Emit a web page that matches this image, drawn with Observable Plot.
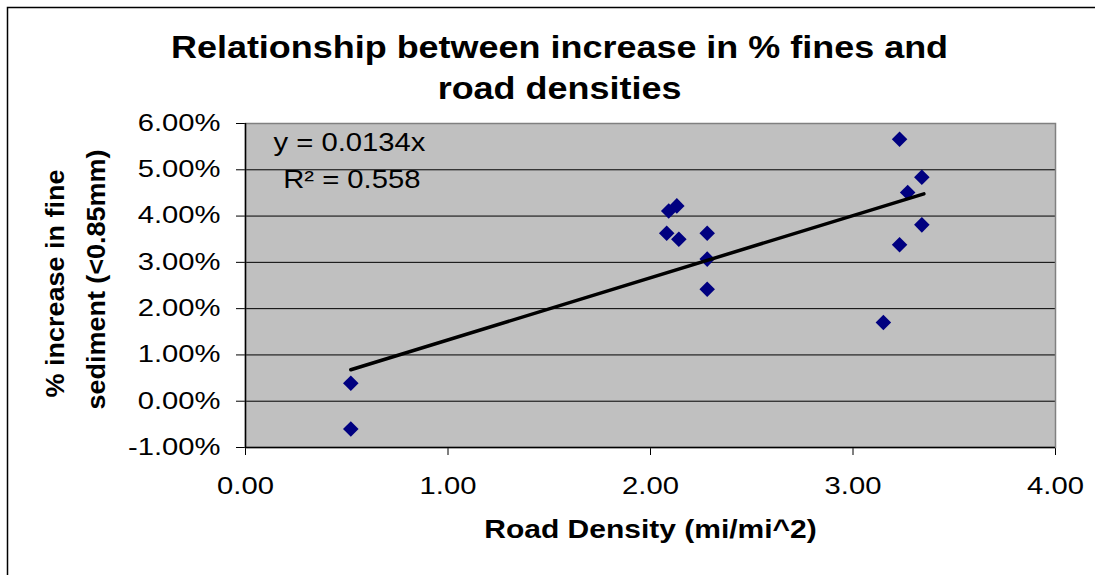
<!DOCTYPE html>
<html>
<head>
<meta charset="utf-8">
<script src="https://cdn.jsdelivr.net/npm/d3@7"></script>
<script src="https://cdn.jsdelivr.net/npm/@observablehq/plot@0.6"></script>
<style>
  html, body { margin: 0; padding: 0; background: white; overflow: hidden; }
</style>
</head>
<body>
<script>
// ---- data ----
const roadDensity = [0.52, 0.52, 2.09, 2.13, 2.08, 2.14, 2.28, 2.28, 2.28, 3.23, 3.34, 3.27, 3.34, 3.23, 3.15];
const pctIncrease = [0.39, -0.60, 4.11, 4.22, 3.63, 3.50, 3.63, 3.07, 2.42, 5.66, 4.84, 4.51, 3.81, 3.38, 1.70];
const trendX = [0.52, 3.35];
const trendY = [0.68, 4.48];
const xTicks = [0, 1, 2, 3, 4];
const yTicks = [-1, 0, 1, 2, 3, 4, 5, 6];
const gridY = [0, 1, 2, 3, 4, 5];
const titleLines = ["Relationship between increase in % fines and", "road densities"];
const yLabelLines = ["% increase in fine", "sediment (<0.85mm)"];
const xLabel = "Road Density (mi/mi^2)";
const equationLines = ["y = 0.0134x", "R\u00B2 = 0.558"];

const points = roadDensity.map((x, i) => ({x, y: pctIncrease[i]}));
const trend = trendX.map((x, i) => ({x, y: trendY[i]}));

const diamond = {
  draw(ctx, size) {
    const r = Math.sqrt(size / 2);
    ctx.moveTo(0, -r); ctx.lineTo(r, 0); ctx.lineTo(0, r); ctx.lineTo(-r, 0); ctx.closePath();
  }
};

const font = "'Liberation Sans', Arial, Helvetica, sans-serif";
const common = {fill: "black", lineAnchor: "middle"};

const svg = Plot.plot({
  width: 1095,
  height: 575,
  marginLeft: 245,
  marginRight: 40,
  marginTop: 123,
  marginBottom: 128,
  style: {fontFamily: font, fontSize: "23px", background: "white", color: "black", overflow: "visible"},
  x: {domain: [0, 4], ticks: xTicks, tickFormat: d => d.toFixed(2), tickSize: 8, tickPadding: 22, label: null},
  y: {domain: [-1, 6], ticks: yTicks, tickFormat: d => d.toFixed(2) + "%", tickSize: 9, tickPadding: 16, label: null},
  marks: [
    Plot.frame({fill: "#c0c0c0", stroke: "none"}),
    Plot.ruleY(gridY, {stroke: "black", strokeWidth: 1}),
    Plot.frame({stroke: "#808080", strokeWidth: 1.5}),
    Plot.ruleX([0], {stroke: "black", strokeWidth: 1.5}),
    Plot.ruleY([-1], {stroke: "black", strokeWidth: 1.5}),
    Plot.dot(points, {x: "x", y: "y", symbol: diamond, r: 6.2, fill: "#000080", stroke: "none"}),
    Plot.line(trend, {x: "x", y: "y", stroke: "black", strokeWidth: 3.5}),
    Plot.text([equationLines[0]], {...common, frameAnchor: "top-left", textAnchor: "start", dx: 28, dy: 19.5, fontSize: 25}),
    Plot.text([equationLines[1]], {...common, frameAnchor: "top-left", textAnchor: "start", dx: 37.7, dy: 56, fontSize: 25}),
    Plot.text([titleLines[0]], {...common, frameAnchor: "top", textAnchor: "middle", dx: -91, dy: -75, fontSize: 31, fontWeight: "bold"}),
    Plot.text([titleLines[1]], {...common, frameAnchor: "top", textAnchor: "middle", dx: -91, dy: -34, fontSize: 31, fontWeight: "bold"}),
    Plot.text([yLabelLines[0]], {...common, frameAnchor: "left", textAnchor: "middle", rotate: -90, dx: -190, dy: -2, fontSize: 25, fontWeight: "bold"}),
    Plot.text([yLabelLines[1]], {...common, frameAnchor: "left", textAnchor: "middle", rotate: -90, dx: -149, dy: -6, fontSize: 25, fontWeight: "bold"}),
    Plot.text([xLabel], {...common, frameAnchor: "bottom", textAnchor: "middle", dy: 82, fontSize: 25, fontWeight: "bold"})
  ]
});

document.body.append(svg);

// the reference renders its text horizontally widened; mimic that with a local x-scale
const stretch = new Map([
  ...titleLines.map(s => [s, 1.16]),
  ...yLabelLines.map(s => [s, 1.08]),
  ...equationLines.map(s => [s, 1.17]),
  [xLabel, 1.2]
]);
svg.querySelectorAll("text").forEach(t => {
  const g = t.closest("g[aria-label]");
  const label = g ? g.getAttribute("aria-label") : "";
  const k = stretch.get(t.textContent) ?? (label.includes("axis") ? 1.27 : 1);
  if (k !== 1) {
    const x = parseFloat(t.getAttribute("x")) || 0;
    t.setAttribute("x", 0);
    const existing = t.getAttribute("transform") || "";
    t.setAttribute("transform", `${existing} translate(${x},0) scale(${k},1)`);
  }
});

// outer chart-area border (left and top edges visible in the reference)
d3.select(svg).append("path")
  .attr("d", "M7.5,575V7.5H1095")
  .attr("fill", "none")
  .attr("stroke", "black")
  .attr("stroke-width", 1.5);
</script>
</body>
</html>
